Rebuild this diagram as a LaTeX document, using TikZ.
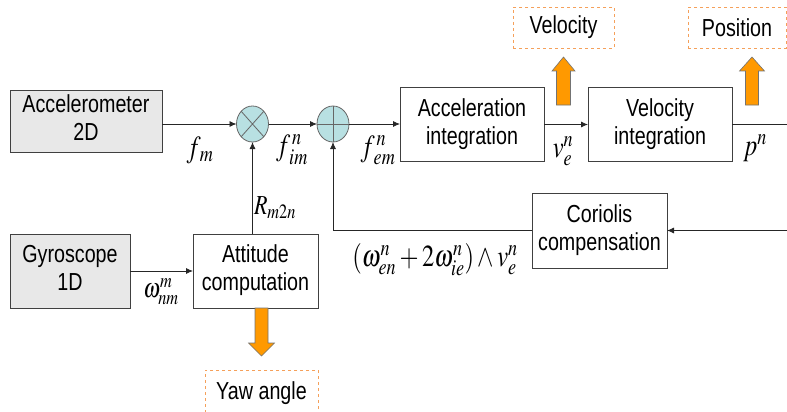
\documentclass[tikz,border=0pt]{standalone}
\usepackage{graphicx}
\usepackage{mathptmx}
\usepackage[no-math]{fontspec}
\setmainfont{Liberation Sans}
\usetikzlibrary{arrows.meta,shapes.geometric}
\definecolor{boxgray}{RGB}{232,232,232}
\definecolor{sumfill}{RGB}{184,224,226}
\definecolor{outorange}{RGB}{255,153,0}
\definecolor{dashorange}{RGB}{245,160,90}
\newcommand{\lbl}[1]{\scalebox{1}[1.25]{\begin{tabular}{@{}c@{}}#1\end{tabular}}}
\newcommand{\mth}[1]{\scalebox{1}[1.25]{$#1$}}
\tikzset{
  blk/.style={draw=black!75, line width=0.8pt, fill=white, inner sep=0pt, outer sep=0pt,
    font=\fontsize{19.7}{22.5}\selectfont, align=center},
  sumnode/.style={ellipse, draw=black!60, line width=0.8pt, fill=sumfill, inner sep=0pt, outer sep=0pt,
    minimum width=32pt, minimum height=36pt},
  outbox/.style={draw=dashorange, dashed, line width=0.8pt, fill=white, inner sep=0pt,
    font=\fontsize{19.7}{22.5}\selectfont},
  arr/.style={draw=black!85, line width=0.8pt, -{Latex[length=7pt,width=6pt]}},
  ln/.style={draw=black!85, line width=0.8pt},
  mlab/.style={inner sep=0pt, font=\fontsize{22}{26}\selectfont},
  mlabbig/.style={inner sep=0pt, font=\fontsize{24.5}{28}\selectfont},
  blockarrow/.style={fill=outorange, draw=black!55, line width=0.6pt, line join=miter}
}
\begin{document}
\begin{tikzpicture}[x=1pt,y=-1pt]
\useasboundingbox (0,0) rectangle (787,412);
\clip (0,0) rectangle (787,412);
% blocks
\node[blk, fill=boxgray, minimum width=152pt, minimum height=62pt] (acc) at (86,121) {\lbl{Accelerometer\\2D}};
\node[blk, fill=boxgray, minimum width=120pt, minimum height=74pt] (gyro) at (70,271) {\lbl{Gyroscope\\1D}};
\node[blk, minimum width=125pt, minimum height=74pt] (att) at (255.5,271) {\lbl{Attitude\\computation}};
\node[blk, minimum width=144pt, minimum height=74pt] (ai) at (472,124.5) {\lbl{Acceleration\\integration}};
\node[blk, minimum width=144pt, minimum height=74pt] (vi) at (660,124.5) {\lbl{Velocity\\integration}};
\node[blk, minimum width=135pt, minimum height=75pt] (cor) at (599.5,230.5) {\lbl{Coriolis\\compensation}};
% summing junctions
\node[sumnode] (mul) at (252.5,124) {};
\draw[black!60, line width=0.8pt] (mul.north west) -- (mul.south east) (mul.north east) -- (mul.south west);
\node[sumnode] (plus) at (333,124) {};
\draw[black!60, line width=0.8pt] (plus.north) -- (plus.south) (plus.west) -- (plus.east);
% output boxes
\node[outbox, minimum width=101pt, minimum height=41pt] (velo) at (563.5,27.5) {\scalebox{1}[1.25]{Velocity}};
\node[outbox, minimum width=98pt, minimum height=41pt] (pos) at (737,27.5) {\scalebox{1}[1.25]{Position}};
\node[outbox, minimum width=113pt, minimum height=46pt] (yaw) at (261.5,393) {\scalebox{1}[1.25]{Yaw angle}};
% free ends
\coordinate (outR) at (788,124.5);
\coordinate (inR) at (788,230.5);
% connectors
\draw[arr] (acc.east |- mul.west) -- (mul.west);
\draw[arr] (mul.east) -- (plus.west);
\draw[arr] (plus.east) -- (ai.west |- plus.east);
\draw[arr] (ai.east) -- (vi.west);
\draw[ln] (vi.east) -- (outR);
\draw[arr] (inR) -- (cor.east);
\draw[arr] (cor.west) -| (plus.south);
\draw[arr] (gyro.east) -- (att.west);
\draw[arr] (mul.south |- att.north) -- (mul.south);
% block arrows
\draw[blockarrow] (563.5,57) -- (575,71) -- (570.5,71) -- (570.5,105) -- (556.5,105) -- (556.5,71) -- (552,71) -- cycle;
\draw[blockarrow] (752,57) -- (764.5,71) -- (758.5,71) -- (758.5,105) -- (745.5,105) -- (745.5,71) -- (739.5,71) -- cycle;
\draw[blockarrow] (255,308) -- (268,308) -- (268,343) -- (274.5,343) -- (261.5,356) -- (248.5,343) -- (255,343) -- cycle;
% labels
\node[mlabbig] (lfm) at (200,150) {\mth{f_{\,m}}};
\node[mlabbig] (lfim) at (292,150) {\mth{f^{\,n}_{\,im}}};
\node[mlabbig] (lfem) at (378,150) {\mth{f^{\,n}_{\,em}}};
\node[mlabbig] (lve) at (563,151) {\mth{v^n_e}};
\node[mlabbig] (lpn) at (755,148) {\mth{p^n}};
\node[mlab] (lR) at (275,208) {\mth{R_{m2n}}};
\node[mlab] (lw) at (161,292) {\mth{\omega^m_{nm}}};
\node[mlabbig] (lcor) at (435,260) {\mth{(\omega^n_{en}+2\omega^n_{ie})\wedge v^n_e}};
\end{tikzpicture}
\end{document}
